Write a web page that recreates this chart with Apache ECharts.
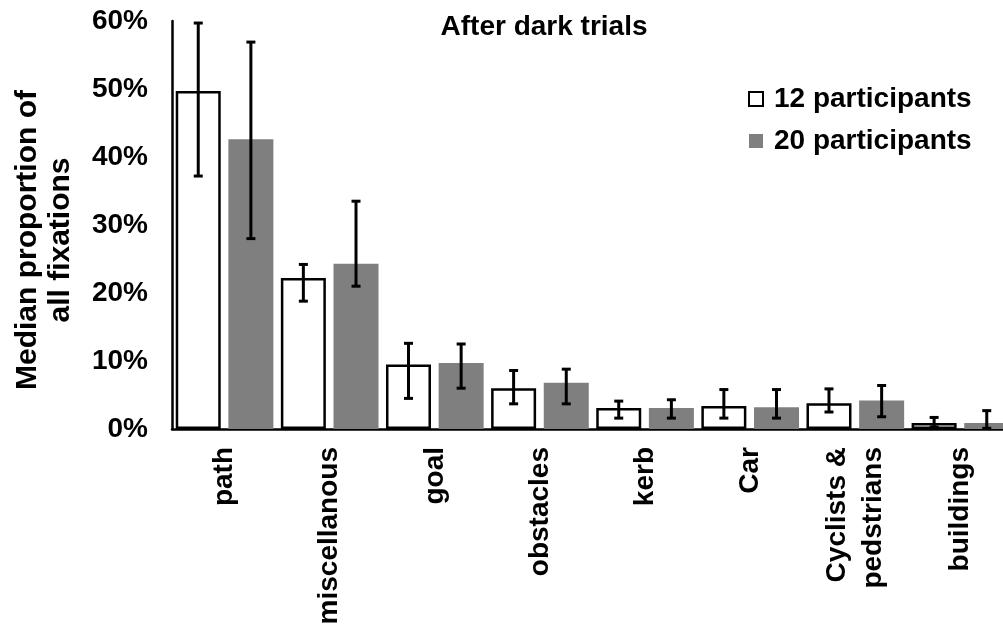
<!DOCTYPE html>
<html>
<head>
<meta charset="utf-8">
<script src="https://cdn.jsdelivr.net/npm/echarts@6/dist/echarts.min.js"></script>
<style>
  html, body { margin: 0; padding: 0; background: #fff; }
  #chart { width: 1003px; height: 628px; }
</style>
</head>
<body>
<div id="chart"></div>
<script>
// Fixation categories along the x axis
const categories = ['path', 'miscellanous', 'goal', 'obstacles', 'kerb', 'Car', 'Cyclists &\npedstrians', 'buildings'];

// Median proportion of fixations (fractions of 1)
const median12 = [0.497, 0.222, 0.095, 0.060, 0.031, 0.034, 0.038, 0.009];
const median20 = [0.426, 0.243, 0.097, 0.068, 0.031, 0.032, 0.042, 0.009];

// Error bar lower / upper bounds
const low12  = [0.372, 0.188, 0.045, 0.037, 0.016, 0.016, 0.025, 0.003];
const high12 = [0.597, 0.242, 0.126, 0.086, 0.041, 0.058, 0.059, 0.017];
const low20  = [0.280, 0.210, 0.060, 0.037, 0.016, 0.016, 0.018, 0.001];
const high20 = [0.569, 0.335, 0.125, 0.088, 0.043, 0.058, 0.064, 0.027];

// Y axis ticks
const yMin = 0, yMax = 0.6, yStep = 0.1;

const FONT = "'Liberation Sans', Arial, sans-serif";
const BAR_W = 45;
const BAR_GAP = 0.17;           // gap between the two bars, relative to bar width
const OFFSET = (BAR_W + BAR_W * BAR_GAP) / 2;

function errorSeries(name, lows, highs, dir) {
  return {
    name: name + ' error',
    type: 'custom',
    z: 10,
    clip: false,
    encode: { x: 0, y: [1, 2] },
    data: lows.map((l, i) => [i, l, highs[i]]),
    renderItem: function (params, api) {
      const cx = api.coord([api.value(0), 0])[0] + dir * OFFSET;
      const yl = api.coord([api.value(0), api.value(1)])[1];
      const yh = api.coord([api.value(0), api.value(2)])[1];
      const cap = 4.5;
      const st = { stroke: '#000', lineWidth: 3 };
      return {
        type: 'group',
        children: [
          { type: 'line', shape: { x1: cx, y1: yl, x2: cx, y2: yh }, style: st },
          { type: 'line', shape: { x1: cx - cap, y1: yh, x2: cx + cap, y2: yh }, style: st },
          { type: 'line', shape: { x1: cx - cap, y1: yl, x2: cx + cap, y2: yl }, style: st }
        ]
      };
    },
    tooltip: { show: false }
  };
}

const chart = echarts.init(document.getElementById('chart'), null, { renderer: 'canvas' });

chart.setOption({
  animation: false,
  backgroundColor: '#fff',
  textStyle: { fontFamily: FONT },
  title: {
    text: 'After dark trials',
    left: 539,
    top: 8,
    textAlign: 'center',
    textStyle: { fontFamily: FONT, fontSize: 28, fontWeight: 'bold', color: '#000' }
  },
  legend: {
    orient: 'vertical',
    left: 743,
    top: 80,
    itemWidth: 14,
    itemHeight: 14,
    itemGap: 14,
    textStyle: { fontFamily: FONT, fontSize: 28, fontWeight: 'bold', color: '#000', lineHeight: 28, padding: [0, 0, 0, 6] },
    data: [
      { name: '12 participants', icon: 'rect', itemStyle: { color: '#fff', borderColor: '#000', borderWidth: 2 } },
      { name: '20 participants', icon: 'rect', itemStyle: { color: '#7f7f7f', borderWidth: 0 } }
    ]
  },
  // The plot area runs a little past the right edge of the canvas
  grid: { left: 172, right: -10, top: 21, bottom: 199, containLabel: false, outerBoundsMode: 'none' },
  xAxis: {
    type: 'category',
    data: categories,
    axisLine: { show: true, lineStyle: { color: '#000', width: 2.5 } },
    axisTick: { show: false },
    axisLabel: {
      rotate: 90,
      margin: 18,
      interval: 0,
      fontFamily: FONT,
      fontSize: 28,
      fontWeight: 'bold',
      color: '#000',
      lineHeight: 36
    },
    splitLine: { show: false }
  },
  yAxis: {
    type: 'value',
    min: yMin,
    max: yMax,
    interval: yStep,
    axisLine: { show: true, lineStyle: { color: '#000', width: 2.5 } },
    axisTick: { show: false },
    splitLine: { show: false },
    axisLabel: {
      margin: 24,
      fontFamily: FONT,
      fontSize: 28,
      fontWeight: 'bold',
      color: '#000',
      formatter: v => Math.round(v * 100) + '%'
    }
  },
  graphic: [
    {
      type: 'text',
      x: 44,
      y: 240,
      rotation: Math.PI / 2,
      style: {
        text: 'Median proportion of\nall fixations',
        fontFamily: FONT,
        fontSize: 30,
        fontWeight: 'bold',
        fill: '#000',
        align: 'center',
        verticalAlign: 'middle',
        lineHeight: 33
      }
    }
  ],
  series: [
    {
      name: '12 participants',
      type: 'bar',
      data: median12,
      barWidth: BAR_W,
      barGap: (BAR_GAP * 100) + '%',
      itemStyle: { color: '#fff', borderColor: '#000', borderWidth: 2.5 }
    },
    {
      name: '20 participants',
      type: 'bar',
      data: median20,
      barWidth: BAR_W,
      barGap: (BAR_GAP * 100) + '%',
      itemStyle: { color: '#7f7f7f' }
    },
    errorSeries('12 participants', low12, high12, -1),
    errorSeries('20 participants', low20, high20, 1)
  ]
});
</script>
</body>
</html>
